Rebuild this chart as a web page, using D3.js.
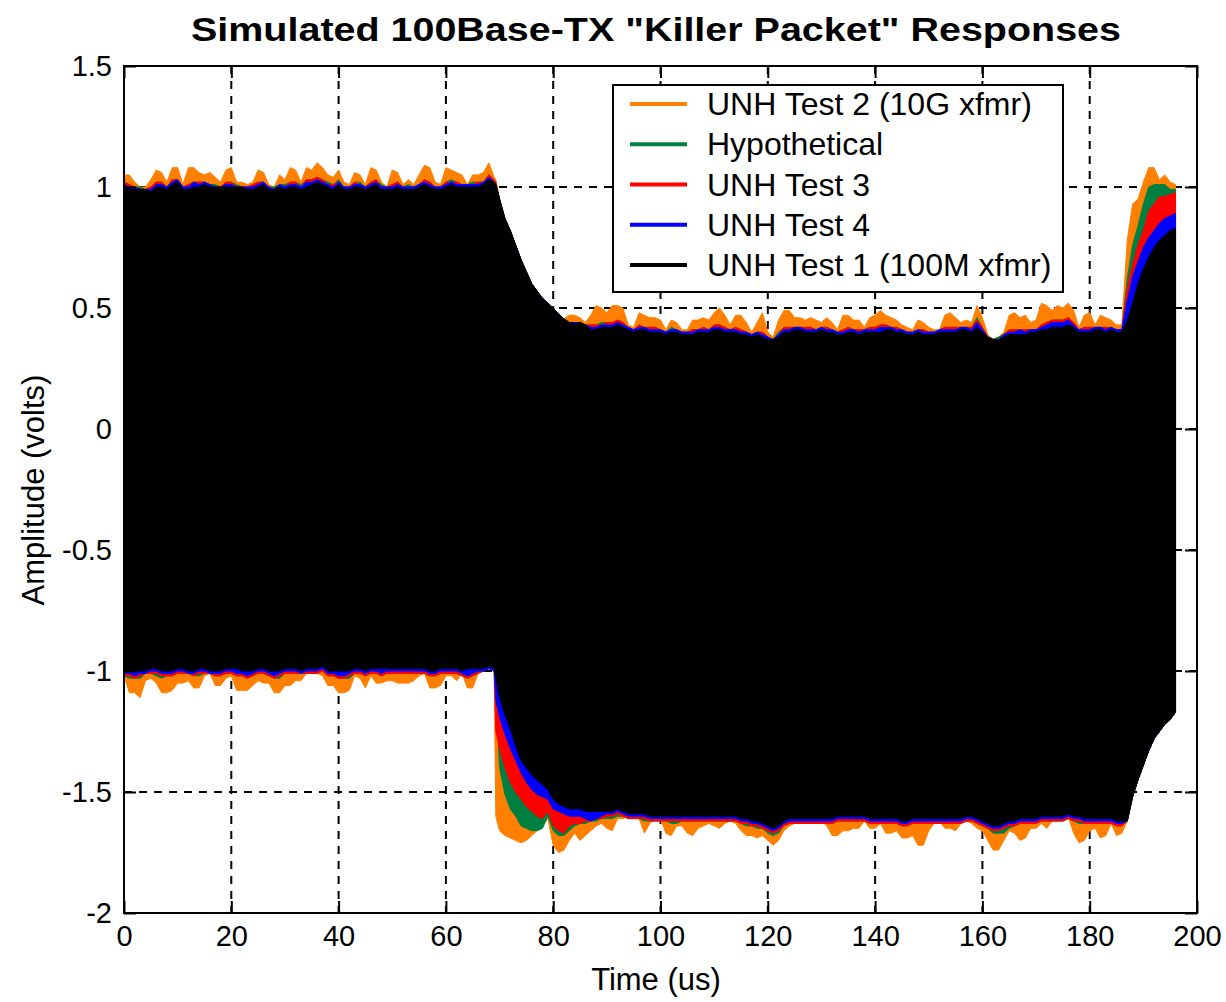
<!DOCTYPE html>
<html><head><meta charset="utf-8">
<script src="https://cdn.jsdelivr.net/npm/d3@7/dist/d3.min.js"></script>
<style>
html,body{margin:0;padding:0;background:#fff;}
svg{display:block;font-family:"Liberation Sans",Arial,sans-serif;}
</style></head><body>
<svg id="c" width="1226" height="1002"></svg>
<script>
// ---------------- DATA ----------------
const seriesNames = ["UNH Test 2 (10G xfmr)","Hypothetical","UNH Test 3","UNH Test 4","UNH Test 1 (100M xfmr)"];
const seriesColors = ["#ff8000","#008040","#ff0000","#0000ff","#000000"];
const xTicks = [0,20,40,60,80,100,120,140,160,180,200];
const yTicks = [-2,-1.5,-1,-0.5,0,0.5,1,1.5];
// time in microseconds: 1 us steps, plus one sample at 69.3 us (the step edge)
const time = d3.range(0,70).concat([69.3], d3.range(70,197));

const orangeUpper = [
1.05,1.05,1.02,1.00,1.00,1.03,1.07,1.06,1.02,1.08,
1.08,1.01,1.08,1.08,1.06,1.05,1.06,1.04,1.02,1.07,
1.08,1.02,1.02,1.01,1.02,1.07,1.06,1.01,1.00,1.05,
1.03,1.08,1.07,1.02,1.08,1.07,1.10,1.08,1.05,1.04,
1.07,1.02,1.01,1.06,1.05,1.01,1.08,1.07,1.02,1.00,
1.07,1.06,1.01,1.03,1.01,1.05,1.09,1.08,1.02,1.01,
1.08,1.07,1.06,1.05,1.01,1.05,1.05,1.06,1.10,1.04,1.03,
0.95,0.87,0.82,0.76,0.70,0.65,0.60,0.57,0.54,0.52,
0.50,0.475,0.455,0.47,0.47,0.46,0.44,0.47,0.51,0.50,
0.48,0.51,0.51,0.50,0.43,0.42,0.48,0.47,0.46,0.46,
0.45,0.41,0.45,0.44,0.41,0.41,0.45,0.45,0.46,0.45,
0.48,0.50,0.47,0.43,0.47,0.47,0.44,0.40,0.44,0.48,
0.40,0.38,0.45,0.49,0.49,0.46,0.46,0.45,0.46,0.45,
0.44,0.46,0.44,0.41,0.47,0.47,0.45,0.45,0.42,0.46,
0.47,0.49,0.47,0.46,0.45,0.43,0.42,0.41,0.45,0.44,
0.42,0.41,0.41,0.47,0.48,0.46,0.44,0.45,0.44,0.51,
0.46,0.39,0.37,0.38,0.40,0.47,0.48,0.46,0.47,0.44,
0.45,0.52,0.51,0.49,0.51,0.50,0.52,0.49,0.42,0.47,
0.48,0.43,0.47,0.46,0.45,0.43,0.43,0.78,0.93,0.95,
1.02,1.08,1.08,1.03,1.05,1.02,1.01];
const orangeLower = [
-1.02,-1.09,-1.09,-1.11,-1.04,-1.03,-1.05,-1.09,-1.09,-1.08,
-1.05,-1.05,-1.04,-1.07,-1.07,-1.02,-1.01,-1.06,-1.06,-1.03,
-1.02,-1.08,-1.08,-1.08,-1.06,-1.04,-1.05,-1.05,-1.09,-1.09,
-1.06,-1.06,-1.04,-1.04,-1.01,-1.01,-1.01,-1.02,-1.06,-1.06,
-1.09,-1.09,-1.08,-1.02,-1.03,-1.07,-1.02,-1.05,-1.05,-1.04,
-1.04,-1.05,-1.05,-1.05,-1.04,-1.02,-1.01,-1.07,-1.07,-1.06,
-1.02,-1.02,-1.04,-1.01,-1.07,-1.07,-1.01,-1.00,-0.99,-1.00,-1.60,
-1.66,-1.68,-1.69,-1.70,-1.71,-1.70,-1.68,-1.66,-1.64,-1.61,
-1.72,-1.75,-1.74,-1.70,-1.67,-1.70,-1.68,-1.66,-1.64,-1.63,
-1.65,-1.66,-1.61,-1.61,-1.60,-1.60,-1.61,-1.67,-1.63,-1.61,
-1.61,-1.67,-1.68,-1.64,-1.64,-1.67,-1.68,-1.65,-1.64,-1.63,
-1.64,-1.65,-1.63,-1.62,-1.63,-1.66,-1.68,-1.68,-1.69,-1.68,
-1.70,-1.72,-1.70,-1.66,-1.64,-1.63,-1.63,-1.63,-1.63,-1.63,
-1.62,-1.64,-1.68,-1.68,-1.66,-1.66,-1.65,-1.65,-1.62,-1.65,
-1.65,-1.63,-1.67,-1.67,-1.66,-1.69,-1.69,-1.68,-1.72,-1.72,
-1.66,-1.63,-1.62,-1.65,-1.65,-1.66,-1.63,-1.62,-1.63,-1.65,
-1.66,-1.70,-1.74,-1.74,-1.70,-1.66,-1.67,-1.70,-1.69,-1.65,
-1.65,-1.63,-1.65,-1.62,-1.62,-1.61,-1.60,-1.67,-1.71,-1.70,
-1.66,-1.65,-1.69,-1.68,-1.63,-1.68,-1.67,-1.62,-1.52,-1.45,
-1.39,-1.33,-1.28,-1.25,-1.22,-1.20,-1.17];

const greenUpper = [
1.02,1.01,1.00,1.00,0.99,1.00,1.02,1.02,1.00,1.03,
1.03,1.00,1.01,1.02,1.02,1.02,1.01,1.01,1.00,1.02,
1.02,1.01,1.00,1.00,1.01,1.02,1.02,1.00,1.00,1.01,
1.01,1.02,1.02,1.01,1.03,1.03,1.04,1.03,1.02,1.01,
1.03,1.00,1.00,1.02,1.02,1.00,1.02,1.03,1.01,1.00,
1.01,1.02,1.00,1.01,1.00,1.01,1.03,1.02,1.00,1.00,
1.02,1.03,1.02,1.01,1.01,1.02,1.02,1.02,1.05,1.03,1.02,
0.95,0.87,0.82,0.76,0.70,0.65,0.60,0.57,0.54,0.52,
0.50,0.475,0.455,0.44,0.44,0.44,0.43,0.43,0.43,0.44,
0.44,0.44,0.45,0.44,0.42,0.41,0.43,0.42,0.42,0.42,
0.41,0.40,0.42,0.41,0.40,0.40,0.41,0.41,0.42,0.41,
0.43,0.43,0.42,0.41,0.42,0.41,0.40,0.39,0.40,0.40,
0.38,0.37,0.40,0.42,0.42,0.42,0.42,0.42,0.42,0.41,
0.42,0.42,0.41,0.40,0.41,0.42,0.41,0.41,0.41,0.42,
0.42,0.43,0.43,0.42,0.42,0.41,0.40,0.40,0.41,0.41,
0.40,0.40,0.41,0.42,0.42,0.42,0.42,0.42,0.42,0.46,
0.42,0.38,0.37,0.38,0.39,0.41,0.41,0.41,0.41,0.41,
0.41,0.43,0.44,0.45,0.45,0.45,0.46,0.44,0.41,0.42,
0.42,0.42,0.42,0.42,0.42,0.41,0.41,0.62,0.76,0.84,
0.93,1.00,1.01,1.01,1.01,0.99,0.99];
const greenLower = [
-1.02,-1.03,-1.03,-1.03,-1.01,-1.01,-1.02,-1.03,-1.02,-1.02,
-1.01,-1.01,-1.01,-1.02,-1.02,-1.01,-1.01,-1.02,-1.02,-1.01,
-1.01,-1.02,-1.02,-1.03,-1.02,-1.01,-1.01,-1.02,-1.03,-1.03,
-1.01,-1.01,-1.01,-1.01,-1.01,-1.01,-1.01,-1.00,-1.02,-1.02,
-1.03,-1.03,-1.03,-1.01,-1.01,-1.02,-1.01,-1.01,-1.02,-1.01,
-1.01,-1.01,-1.01,-1.01,-1.01,-1.01,-1.01,-1.02,-1.02,-1.01,
-1.01,-1.01,-1.01,-1.02,-1.03,-1.02,-1.01,-1.00,-0.99,-1.00,-1.05,
-1.40,-1.51,-1.57,-1.60,-1.64,-1.65,-1.66,-1.66,-1.65,-1.60,
-1.66,-1.68,-1.68,-1.66,-1.64,-1.63,-1.63,-1.62,-1.62,-1.61,
-1.61,-1.61,-1.60,-1.60,-1.61,-1.61,-1.61,-1.62,-1.62,-1.62,
-1.62,-1.62,-1.63,-1.63,-1.62,-1.62,-1.62,-1.62,-1.62,-1.62,
-1.62,-1.62,-1.62,-1.62,-1.62,-1.63,-1.64,-1.64,-1.65,-1.65,
-1.67,-1.68,-1.67,-1.64,-1.63,-1.63,-1.63,-1.63,-1.63,-1.63,
-1.63,-1.63,-1.63,-1.62,-1.62,-1.62,-1.62,-1.62,-1.62,-1.63,
-1.63,-1.63,-1.63,-1.63,-1.63,-1.64,-1.64,-1.63,-1.63,-1.63,
-1.63,-1.63,-1.63,-1.63,-1.63,-1.63,-1.63,-1.62,-1.62,-1.63,
-1.64,-1.65,-1.67,-1.67,-1.67,-1.65,-1.64,-1.63,-1.63,-1.63,
-1.63,-1.62,-1.62,-1.62,-1.62,-1.62,-1.61,-1.62,-1.63,-1.63,
-1.63,-1.63,-1.63,-1.63,-1.63,-1.64,-1.64,-1.62,-1.52,-1.45,
-1.39,-1.33,-1.28,-1.25,-1.22,-1.20,-1.17];

const redUpper = [
1.02,1.01,1.00,0.99,0.99,1.00,1.02,1.02,1.00,1.03,
1.03,1.00,1.01,1.02,1.02,1.02,1.01,1.00,1.00,1.02,
1.02,1.00,1.00,1.00,1.01,1.02,1.02,1.00,0.99,1.01,
1.00,1.02,1.02,1.00,1.03,1.03,1.04,1.03,1.01,1.01,
1.02,1.00,1.00,1.02,1.01,1.00,1.02,1.03,1.00,1.00,
1.01,1.02,1.00,1.00,1.00,1.01,1.03,1.02,1.00,1.00,
1.02,1.02,1.02,1.01,1.01,1.01,1.02,1.02,1.05,1.03,1.02,
0.95,0.87,0.82,0.76,0.70,0.65,0.60,0.57,0.54,0.52,
0.50,0.475,0.455,0.44,0.44,0.44,0.43,0.43,0.43,0.43,
0.44,0.44,0.45,0.44,0.42,0.41,0.43,0.42,0.42,0.42,
0.41,0.40,0.41,0.41,0.40,0.40,0.41,0.41,0.42,0.41,
0.43,0.43,0.42,0.41,0.42,0.41,0.40,0.39,0.40,0.40,
0.38,0.37,0.39,0.42,0.42,0.42,0.42,0.42,0.42,0.41,
0.42,0.42,0.41,0.40,0.41,0.42,0.41,0.41,0.41,0.42,
0.42,0.43,0.43,0.42,0.42,0.41,0.40,0.40,0.41,0.41,
0.40,0.40,0.41,0.42,0.42,0.42,0.42,0.42,0.42,0.45,
0.42,0.38,0.37,0.37,0.39,0.41,0.41,0.41,0.41,0.41,
0.41,0.43,0.44,0.45,0.45,0.45,0.46,0.44,0.41,0.42,
0.42,0.42,0.42,0.42,0.42,0.41,0.41,0.58,0.68,0.76,
0.82,0.90,0.93,0.96,0.96,0.97,0.975];
const redLower = [
-1.02,-1.02,-1.03,-1.02,-1.01,-1.01,-1.01,-1.02,-1.02,-1.02,
-1.01,-1.01,-1.01,-1.02,-1.01,-1.01,-1.01,-1.02,-1.02,-1.01,
-1.01,-1.02,-1.02,-1.03,-1.02,-1.01,-1.01,-1.02,-1.03,-1.02,
-1.01,-1.01,-1.01,-1.01,-1.01,-1.01,-1.01,-1.00,-1.02,-1.02,
-1.03,-1.03,-1.02,-1.01,-1.01,-1.02,-1.01,-1.01,-1.02,-1.01,
-1.01,-1.01,-1.01,-1.01,-1.01,-1.01,-1.01,-1.02,-1.02,-1.01,
-1.01,-1.01,-1.01,-1.02,-1.03,-1.02,-1.01,-1.00,-0.99,-1.00,-1.25,
-1.32,-1.40,-1.46,-1.50,-1.53,-1.56,-1.58,-1.60,-1.61,-1.58,
-1.64,-1.66,-1.67,-1.64,-1.63,-1.63,-1.62,-1.62,-1.61,-1.61,
-1.60,-1.60,-1.59,-1.60,-1.61,-1.61,-1.61,-1.61,-1.62,-1.62,
-1.62,-1.62,-1.62,-1.62,-1.62,-1.62,-1.62,-1.62,-1.62,-1.62,
-1.62,-1.62,-1.62,-1.62,-1.62,-1.63,-1.63,-1.64,-1.64,-1.65,
-1.66,-1.67,-1.66,-1.64,-1.63,-1.63,-1.63,-1.63,-1.63,-1.63,
-1.63,-1.63,-1.63,-1.62,-1.62,-1.62,-1.62,-1.62,-1.62,-1.63,
-1.63,-1.63,-1.63,-1.63,-1.63,-1.64,-1.64,-1.63,-1.63,-1.63,
-1.63,-1.63,-1.63,-1.63,-1.63,-1.63,-1.63,-1.62,-1.62,-1.63,
-1.64,-1.65,-1.66,-1.66,-1.65,-1.64,-1.64,-1.63,-1.63,-1.63,
-1.63,-1.62,-1.62,-1.62,-1.62,-1.62,-1.61,-1.62,-1.62,-1.63,
-1.63,-1.63,-1.63,-1.63,-1.63,-1.64,-1.64,-1.62,-1.52,-1.45,
-1.39,-1.33,-1.28,-1.25,-1.22,-1.20,-1.17];

const blueUpper = [
1.01,1.00,1.00,0.99,0.99,0.99,1.01,1.01,1.00,1.02,
1.03,1.00,1.00,1.02,1.01,1.02,1.01,1.00,1.00,1.01,
1.01,1.00,1.00,1.00,1.00,1.01,1.02,1.00,0.99,1.01,
1.00,1.01,1.01,1.00,1.02,1.02,1.03,1.02,1.01,1.00,
1.02,1.00,1.00,1.01,1.01,1.00,1.01,1.02,1.00,1.00,
1.00,1.01,1.00,1.00,1.00,1.01,1.02,1.01,1.00,1.00,
1.01,1.02,1.01,1.01,1.01,1.01,1.01,1.02,1.04,1.02,1.01,
0.95,0.87,0.82,0.76,0.70,0.65,0.60,0.57,0.54,0.52,
0.50,0.475,0.455,0.44,0.44,0.44,0.43,0.42,0.42,0.43,
0.43,0.43,0.44,0.43,0.42,0.41,0.42,0.42,0.41,0.41,
0.41,0.40,0.41,0.41,0.40,0.40,0.40,0.41,0.41,0.41,
0.42,0.42,0.41,0.41,0.41,0.40,0.40,0.39,0.40,0.39,
0.38,0.37,0.39,0.41,0.41,0.42,0.42,0.41,0.41,0.41,
0.42,0.41,0.41,0.40,0.40,0.41,0.41,0.40,0.41,0.41,
0.41,0.42,0.42,0.42,0.41,0.41,0.40,0.40,0.41,0.40,
0.40,0.40,0.41,0.41,0.41,0.41,0.42,0.42,0.41,0.44,
0.41,0.38,0.37,0.37,0.39,0.40,0.40,0.41,0.40,0.41,
0.41,0.42,0.43,0.44,0.44,0.44,0.45,0.43,0.41,0.41,
0.41,0.42,0.42,0.41,0.42,0.41,0.41,0.53,0.63,0.69,
0.75,0.79,0.82,0.85,0.87,0.88,0.89];
const blueLower = [
-1.01,-1.01,-1.02,-1.01,-1.01,-1.00,-1.00,-1.01,-1.01,-1.01,
-1.00,-1.00,-1.01,-1.01,-1.00,-1.00,-1.01,-1.01,-1.01,-1.00,
-1.00,-1.01,-1.01,-1.02,-1.01,-1.00,-1.00,-1.01,-1.02,-1.01,
-1.00,-1.00,-1.00,-1.01,-1.00,-1.00,-1.00,-0.99,-1.01,-1.01,
-1.02,-1.02,-1.01,-1.00,-1.00,-1.01,-1.00,-1.00,-1.01,-1.00,
-1.00,-1.00,-1.00,-1.00,-1.00,-1.00,-1.00,-1.01,-1.01,-1.00,
-1.00,-1.00,-1.00,-1.01,-1.02,-1.01,-1.00,-1.00,-0.99,-1.00,-1.12,
-1.19,-1.26,-1.32,-1.37,-1.42,-1.46,-1.49,-1.51,-1.52,-1.53,
-1.57,-1.58,-1.59,-1.60,-1.60,-1.60,-1.61,-1.62,-1.61,-1.60,
-1.59,-1.59,-1.58,-1.59,-1.60,-1.60,-1.60,-1.60,-1.61,-1.61,
-1.61,-1.61,-1.61,-1.61,-1.61,-1.61,-1.61,-1.61,-1.61,-1.61,
-1.61,-1.61,-1.61,-1.61,-1.61,-1.62,-1.62,-1.63,-1.63,-1.64,
-1.65,-1.66,-1.65,-1.63,-1.62,-1.62,-1.62,-1.62,-1.62,-1.62,
-1.62,-1.62,-1.62,-1.61,-1.61,-1.61,-1.61,-1.61,-1.61,-1.62,
-1.62,-1.62,-1.62,-1.62,-1.62,-1.63,-1.63,-1.62,-1.62,-1.62,
-1.62,-1.62,-1.62,-1.62,-1.62,-1.62,-1.62,-1.61,-1.61,-1.62,
-1.63,-1.64,-1.65,-1.65,-1.64,-1.63,-1.63,-1.62,-1.62,-1.62,
-1.62,-1.61,-1.61,-1.61,-1.61,-1.61,-1.60,-1.61,-1.61,-1.62,
-1.62,-1.62,-1.62,-1.62,-1.62,-1.63,-1.63,-1.62,-1.52,-1.45,
-1.39,-1.33,-1.28,-1.25,-1.22,-1.20,-1.17];

const blackUpper = [
1.00,0.99,0.99,0.99,0.99,0.98,1.00,1.00,0.99,1.01,
1.02,0.99,0.99,1.00,1.00,1.01,1.00,1.00,1.00,1.00,
1.00,1.00,1.00,0.99,0.99,1.00,1.01,0.99,0.99,1.00,
0.99,1.00,1.00,0.99,1.00,1.01,1.02,1.01,1.00,0.99,
1.01,0.99,0.99,1.00,1.00,0.99,1.00,1.01,0.99,0.99,
0.99,1.00,0.99,0.99,0.99,1.00,1.01,1.00,0.99,0.99,
1.00,1.01,1.00,1.00,1.00,1.00,1.00,1.01,1.03,1.02,1.01,
0.95,0.87,0.82,0.76,0.70,0.65,0.60,0.57,0.54,0.52,
0.50,0.475,0.455,0.44,0.435,0.44,0.43,0.41,0.41,0.42,
0.42,0.42,0.43,0.42,0.41,0.40,0.41,0.41,0.40,0.40,
0.40,0.39,0.40,0.40,0.39,0.39,0.39,0.40,0.40,0.40,
0.41,0.41,0.40,0.40,0.40,0.39,0.39,0.38,0.39,0.38,
0.37,0.37,0.38,0.40,0.40,0.41,0.41,0.40,0.40,0.40,
0.41,0.40,0.40,0.39,0.39,0.40,0.40,0.39,0.40,0.40,
0.40,0.40,0.41,0.41,0.40,0.40,0.39,0.39,0.40,0.39,
0.39,0.39,0.40,0.40,0.40,0.40,0.41,0.41,0.40,0.42,
0.40,0.38,0.37,0.37,0.38,0.39,0.39,0.39,0.39,0.40,
0.40,0.41,0.41,0.42,0.42,0.42,0.43,0.42,0.40,0.40,
0.40,0.41,0.41,0.40,0.41,0.40,0.40,0.45,0.52,0.60,
0.66,0.71,0.75,0.78,0.80,0.82,0.83];
const blackLower = [
-1.00,-1.00,-1.00,-1.00,-1.00,-0.99,-0.99,-1.00,-1.00,-1.00,
-0.99,-0.99,-1.00,-1.00,-0.99,-0.99,-1.00,-1.00,-1.00,-0.99,
-0.99,-0.99,-1.00,-1.00,-1.00,-0.99,-0.99,-1.00,-1.00,-1.00,
-0.99,-0.99,-0.99,-1.00,-0.99,-0.99,-0.99,-0.98,-1.00,-1.00,
-1.00,-1.00,-1.00,-0.99,-0.99,-1.00,-0.99,-0.99,-0.99,-0.99,
-0.99,-0.99,-0.99,-0.99,-0.99,-0.99,-0.99,-1.00,-1.00,-0.99,
-0.99,-0.99,-0.99,-1.00,-0.99,-0.99,-0.99,-0.99,-0.98,-0.99,-1.03,
-1.11,-1.18,-1.24,-1.31,-1.37,-1.40,-1.43,-1.45,-1.47,-1.49,
-1.53,-1.55,-1.56,-1.57,-1.57,-1.57,-1.58,-1.58,-1.58,-1.58,
-1.58,-1.58,-1.57,-1.58,-1.59,-1.59,-1.59,-1.59,-1.60,-1.60,
-1.60,-1.60,-1.60,-1.60,-1.60,-1.60,-1.60,-1.60,-1.60,-1.60,
-1.60,-1.60,-1.60,-1.60,-1.60,-1.61,-1.61,-1.62,-1.62,-1.63,
-1.64,-1.65,-1.64,-1.62,-1.61,-1.61,-1.61,-1.61,-1.61,-1.61,
-1.61,-1.61,-1.61,-1.60,-1.60,-1.60,-1.60,-1.60,-1.60,-1.61,
-1.61,-1.61,-1.61,-1.61,-1.61,-1.62,-1.62,-1.61,-1.61,-1.61,
-1.61,-1.61,-1.61,-1.61,-1.61,-1.61,-1.61,-1.60,-1.60,-1.61,
-1.62,-1.63,-1.64,-1.64,-1.63,-1.62,-1.62,-1.61,-1.61,-1.61,
-1.61,-1.60,-1.60,-1.60,-1.60,-1.60,-1.59,-1.60,-1.60,-1.61,
-1.61,-1.61,-1.61,-1.61,-1.61,-1.62,-1.62,-1.62,-1.52,-1.45,
-1.39,-1.33,-1.28,-1.25,-1.22,-1.20,-1.17];

// ---------------- CHART ----------------
const W = 1226, H = 1002;
const plot = {left:124, right:1197, top:66, bottom:913};
const svg = d3.select("#c");
svg.append("rect").attr("width",W).attr("height",H).attr("fill","#fff");

const x = d3.scaleLinear().domain([0,200]).range([plot.left, plot.right]);
const y = d3.scaleLinear().domain([-2,1.5]).range([plot.bottom, plot.top]);
const pw = plot.right - plot.left, ph = plot.bottom - plot.top;
const tickLen = 12;

// grid (under data)
const grid = svg.append("g");
grid.selectAll("line.gx").data(xTicks.slice(1,-1)).join("line")
  .attr("x1",d=>x(d)).attr("x2",d=>x(d)).attr("y1",plot.top).attr("y2",plot.bottom)
  .attr("stroke","#000").attr("stroke-width",2).attr("stroke-dasharray","8,7");
grid.selectAll("line.gy").data(yTicks.slice(1,-1)).join("line")
  .attr("y1",d=>y(d)).attr("y2",d=>y(d)).attr("x1",plot.left).attr("x2",plot.right)
  .attr("stroke","#000").attr("stroke-width",2).attr("stroke-dasharray","8,7");

// series envelopes (back to front)
const series = [
  {upper:orangeUpper, lower:orangeLower},
  {upper:greenUpper,  lower:greenLower},
  {upper:redUpper,    lower:redLower},
  {upper:blueUpper,   lower:blueLower},
  {upper:blackUpper,  lower:blackLower}
];
const area = d3.area()
  .x(d=>x(d.t)).y0(d=>y(d.lo)).y1(d=>y(d.hi))
  .curve(d3.curveLinear);
series.forEach((s,i)=>{
  const pts = time.map((t,j)=>({t, hi:s.upper[j], lo:s.lower[j]}));
  svg.append("path").datum(pts).attr("d",area)
    .attr("fill",seriesColors[i]).attr("stroke",seriesColors[i]).attr("stroke-width",1);
});

// axes
const fmt = d=>String(d);
const axB = svg.append("g").attr("transform",`translate(0,${plot.bottom})`)
  .call(d3.axisBottom(x).tickValues(xTicks).tickSize(-tickLen).tickPadding(12).tickFormat(fmt));
const axT = svg.append("g").attr("transform",`translate(0,${plot.top})`)
  .call(d3.axisTop(x).tickValues(xTicks).tickSize(-tickLen).tickFormat(""));
const axL = svg.append("g").attr("transform",`translate(${plot.left},0)`)
  .call(d3.axisLeft(y).tickValues(yTicks).tickSize(-tickLen).tickPadding(12).tickFormat(fmt));
const axR = svg.append("g").attr("transform",`translate(${plot.right},0)`)
  .call(d3.axisRight(y).tickValues(yTicks).tickSize(-tickLen).tickFormat(""));
[axB,axT,axL,axR].forEach(a=>{
  a.select(".domain").remove();
  a.selectAll(".tick line").attr("stroke","#000").attr("stroke-width",2);
  a.selectAll("text").attr("fill","#000").style("font-size","29px")
   .style("font-family",'"Liberation Sans",Arial,sans-serif');
});
svg.append("rect").attr("x",plot.left).attr("y",plot.top).attr("width",pw).attr("height",ph)
  .attr("fill","none").attr("stroke","#000").attr("stroke-width",2);

// labels
svg.append("text").attr("x",656).attr("y",41).attr("text-anchor","middle")
  .style("font-size","34px").style("font-weight","bold")
  .attr("textLength",930).attr("lengthAdjust","spacingAndGlyphs")
  .text('Simulated 100Base-TX "Killer Packet" Responses');
svg.append("text").attr("x",656).attr("y",990).attr("text-anchor","middle")
  .style("font-size","31px").text("Time (us)");
svg.append("text").attr("transform","translate(44,490) rotate(-90)").attr("text-anchor","middle")
  .style("font-size","31px").text("Amplitude (volts)");

// legend
const lg = svg.append("g");
lg.append("rect").attr("x",613).attr("y",85).attr("width",450).attr("height",207)
  .attr("fill","#fff").attr("stroke","#000").attr("stroke-width",2);
const rowY = d3.scaleLinear().domain([0,4]).range([104,265]);
seriesNames.forEach((n,i)=>{
  lg.append("line").attr("x1",630).attr("x2",687).attr("y1",rowY(i)).attr("y2",rowY(i))
    .attr("stroke",seriesColors[i]).attr("stroke-width",4);
  lg.append("text").attr("x",707).attr("y",rowY(i)+11).style("font-size","32px").text(n);
});
</script>
</body></html>
